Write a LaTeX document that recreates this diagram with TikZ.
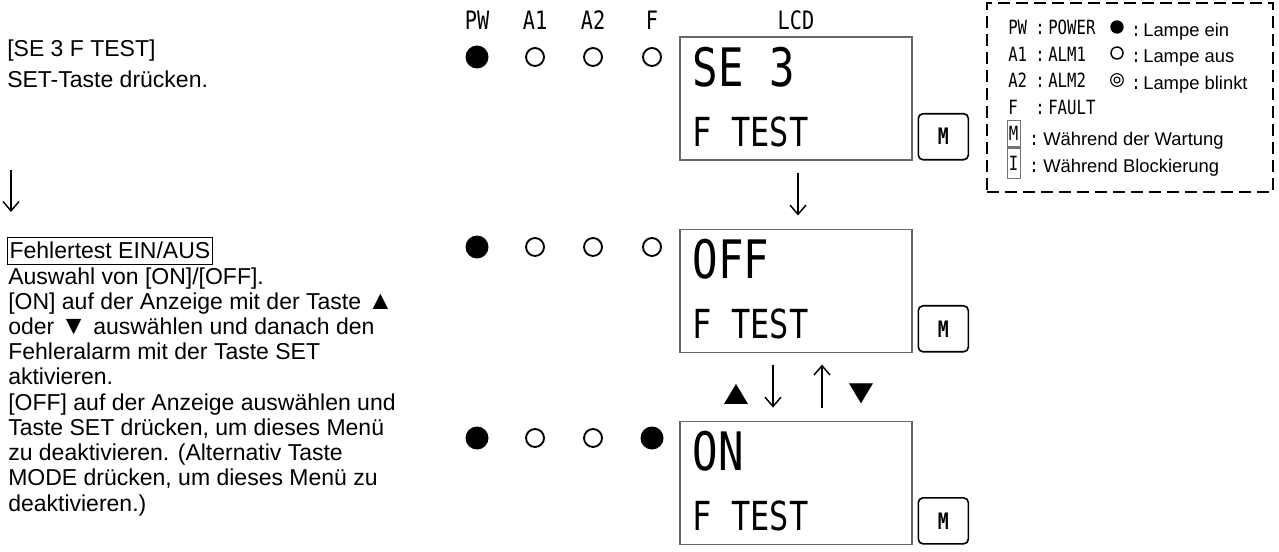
\documentclass[tikz,border=0pt]{standalone}
\usepackage{fontspec}
\usepackage{graphicx}
\setmainfont{Liberation Sans}
\newfontfamily\lcdfont[FakeStretch=0.8]{DejaVu Sans Mono}
\newcommand\bigtri[1]{\smash{\scalebox{1.15}{#1}}}
\usetikzlibrary{arrows.meta, positioning, calc}

\begin{document}
\begin{tikzpicture}[
    x=0.75pt, y=-0.75pt,
    every node/.style={inner sep=0pt},
    txt/.style={
        anchor=base west,
        font=\fontsize{17.25pt}{19.2pt}\selectfont
    },
    legend txt/.style={
        anchor=base west,
        font=\fontsize{13.8pt}{15pt}\selectfont
    },
    head/.style={
        font=\lcdfont\fontsize{19pt}{20pt}\selectfont
    },
    key/.style={
        anchor=base west,
        font=\lcdfont\fontsize{14.7pt}{16pt}\selectfont
    },
    led on/.style={
        circle, 
        fill=black, 
        minimum size=17.25pt
    },
    led off/.style={
        circle, 
        draw=black, 
        line width=1.4pt, 
        minimum size=13.5pt
    },
    lcd/.style={
        rectangle, 
        draw=black!60, 
        line width=0.8pt, 
        minimum width=174pt, 
        minimum height=92.25pt
    },
    lcd big/.style={
        anchor=base west, 
        font=\lcdfont\fontsize{39.75pt}{40pt}\selectfont
    },
    lcd small/.style={
        anchor=base west, 
        font=\lcdfont\fontsize{30pt}{32pt}\selectfont
    },
    mkey/.style={
        rectangle, 
        draw=black, 
        rounded corners=3.5pt, 
        line width=1.2pt, 
        minimum width=37.5pt, 
        minimum height=34.5pt, 
        font=\lcdfont\bfseries\fontsize{17pt}{17pt}\selectfont
    },
    indicator/.style={
        rectangle, 
        draw=black!55, 
        line width=0.6pt, 
        minimum width=9.75pt, 
        font=\lcdfont\fontsize{14.7pt}{16pt}\selectfont
    },
    legend box/.style={
        rectangle, 
        draw=black, 
        line width=2.2pt, 
        dash pattern=on 9pt off 4.5pt, 
        minimum width=214.5pt, 
        minimum height=141.75pt
    },
    arrow/.style={
        -{Straight Barb[length=7pt, width=12pt]}, 
        line width=1.1pt
    }
]
\useasboundingbox (0,0) rectangle (1279,552);

% left column
\node[txt] (step1) at (7,57) {[SE 3 F TEST]};
\node[txt] (step1b) at (7,88) {SET-Taste drücken.};
\coordinate (down top) at (11,170);
\coordinate (down bot) at (11,212);
\draw[arrow] (down top) -- (down bot);

\node[txt, draw, line width=0.9pt, inner xsep=1.5pt, inner ysep=3.75pt] (step2) at (7,259) {Fehlertest EIN/AUS};
\foreach \t [count=\i] in {
    {Auswahl von [ON]/[OFF].},
    {[ON] auf der Anzeige mit der Taste \bigtri{▲}},
    {oder \bigtri{▼} auswählen und danach den},
    {Fehleralarm mit der Taste SET},
    {aktivieren.},
    {[OFF] auf der Anzeige auswählen und},
    {Taste SET drücken, um dieses Menü},
    {zu deaktivieren. (Alternativ Taste},
    {MODE drücken, um dieses Menü zu},
    {deaktivieren.)}}
    \node[txt] (desc\i) at (8,259+25.2*\i) {\t};

% headers
\node[head] (hpw) at (477,20) {PW};
\node[head] (ha1) at (535,20) {A1};
\node[head] (ha2) at (593,20) {A2};
\node[head] (hf) at (652,20) {F};
\node[head] (hlcd) at (796,20) {LCD};

% LCD panels
\node[lcd] (lcd1) at (796,98.5) {};
\node[lcd, below=51pt of lcd1] (lcd2) {};
\node[lcd, below=51pt of lcd2] (lcd3) {};

\node[lcd big] (t1a) at ($(lcd1.north west)+(13,50)$) {SE 3};
\node[lcd small] (t1b) at ($(lcd1.north west)+(13,110)$) {F TEST};
\node[lcd big] (t2a) at ($(lcd2.north west)+(13,50)$) {OFF};
\node[lcd small] (t2b) at ($(lcd2.north west)+(13,110)$) {F TEST};
\node[lcd big] (t3a) at ($(lcd3.north west)+(13,50)$) {ON};
\node[lcd small] (t3b) at ($(lcd3.north west)+(13,110)$) {F TEST};

\node[mkey, right=3.75pt of lcd1.south east, anchor=south west] (m1) {M};
\node[mkey, right=3.75pt of lcd2.south east, anchor=south west] (m2) {M};
\node[mkey, right=3.75pt of lcd3.south east, anchor=south west] (m3) {M};

% lamps
\foreach \s/\x [count=\i] in {on/477, off/535, off/593, off/652}
    \node[led \s] (ra\i) at (\x,57) {};
\foreach \s/\x [count=\i] in {on/477, off/535, off/593, off/652}
    \node[led \s] (rb\i) at (\x,247) {};
\foreach \s/\x [count=\i] in {on/477, off/535, off/593, on/652}
    \node[led \s] (rc\i) at (\x,438) {};

% transitions
\draw[arrow, shorten <=9pt, shorten >=9.75pt] ([xshift=1.5pt]lcd1.south) -- ([xshift=1.5pt]lcd2.north);
\draw[arrow, shorten <=9pt, shorten >=9.75pt] ([xshift=-17.25pt]lcd2.south) -- ([xshift=-17.25pt]lcd3.north);
\draw[arrow, shorten <=9.75pt, shorten >=9pt] ([xshift=19.5pt]lcd3.north) -- ([xshift=19.5pt]lcd2.south);
\node[txt, anchor=center] (keyup) at (736,394) {\scalebox{1.8}[1.5]{▲}};
\node[txt, anchor=center] (keydown) at (861,394) {\scalebox{1.8}[1.5]{▼}};

% legend
\node[legend box] (legend) at (1130,97.5) {};
\foreach \k/\v [count=\i] in {PW/POWER, A1/ALM1, A2/ALM2, F/FAULT} {
    \node[key] (lk\i) at (1008,7.8+26.7*\i) {\k};
    \node[key] (lc\i) at (1035,7.8+26.7*\i) {:};
    \node[key] (lv\i) at (1048,7.8+26.7*\i) {\v};
}
\node[circle, fill=black, minimum size=10pt] (lamp on) at (1117,27) {};
\node[circle, draw=black, line width=1.1pt, minimum size=9pt] (lamp off) at (1117,53) {};
\node[circle, draw=black, line width=0.8pt, minimum size=9.5pt] (lamp blink) at (1117,80) {};
\node[circle, draw=black, line width=0.8pt, minimum size=4.5pt] (lamp blink in) at (lamp blink) {};
\node[key] (lcol1) at (1131,37) {:};
\node[key] (lcol2) at (1131,63) {:};
\node[key] (lcol3) at (1131,90) {:};
\node[legend txt] (lt1) at (1143,37) {Lampe ein};
\node[legend txt] (lt2) at (1143,63) {Lampe aus};
\node[legend txt] (lt3) at (1143,90) {Lampe blinkt};

\node[indicator, minimum height=20.25pt] (ind m) at (1013.5,133.5) {M};
\node[indicator, minimum height=22.5pt] (ind i) at (1013.5,163) {I};
\draw[black!55, line width=1.4pt] (ind m.south west) -- (ind m.south east);
\node[key] (lcol4) at (1029,146) {:};
\node[key] (lcol5) at (1029,173) {:};
\node[legend txt] (lt4) at (1043,146) {Während der Wartung};
\node[legend txt] (lt5) at (1043,173) {Während Blockierung};

\end{tikzpicture}
\end{document}
